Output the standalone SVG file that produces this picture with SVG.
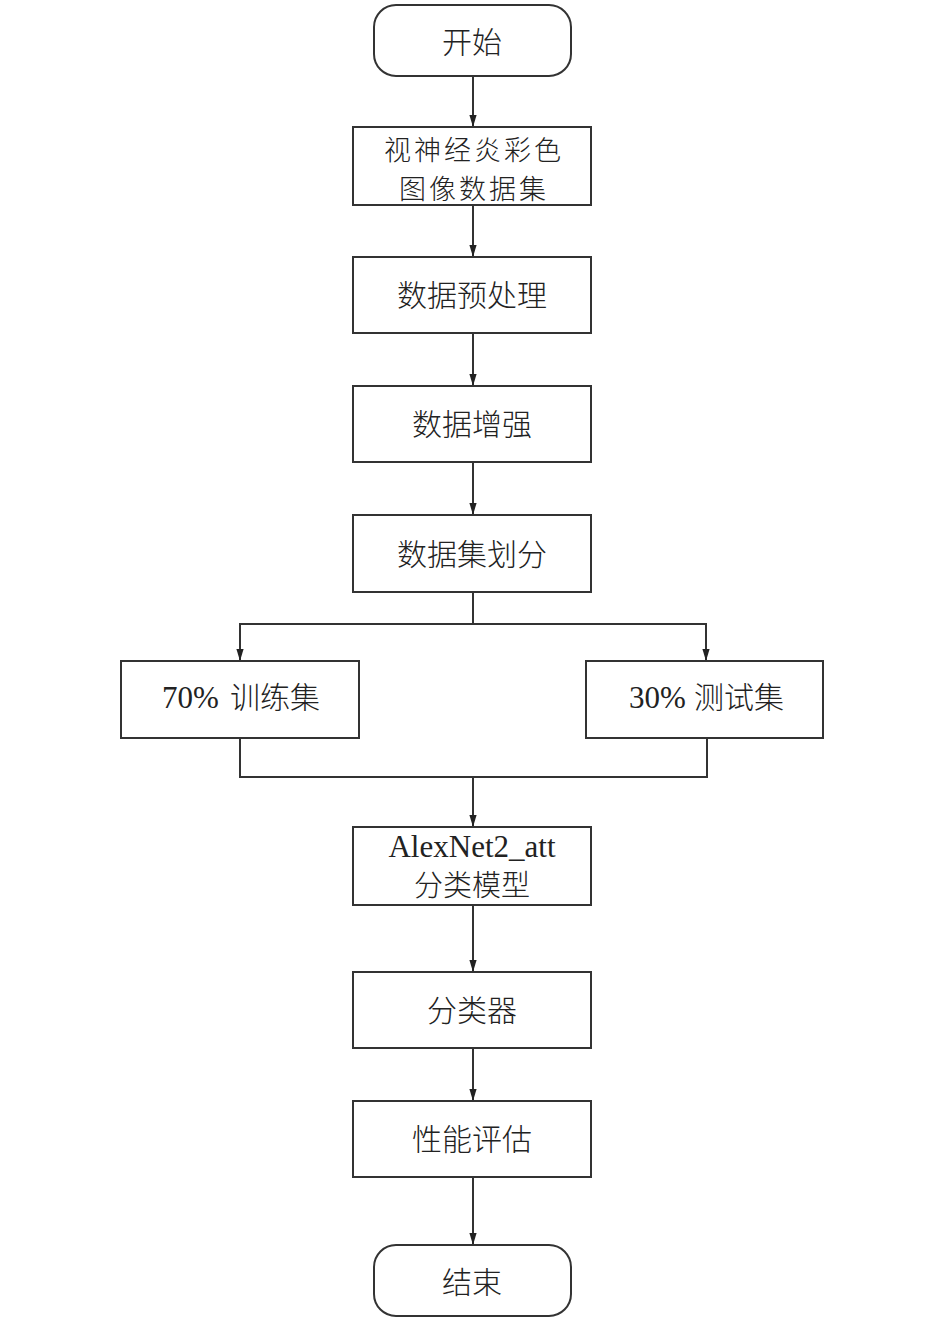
<svg xmlns="http://www.w3.org/2000/svg" width="945" height="1323" viewBox="0 0 945 1323">
<defs>
<marker id="arr" markerWidth="12" markerHeight="20" refX="20" refY="6" orient="auto" markerUnits="userSpaceOnUse" viewBox="0 0 20 12">
<path d="M0,0 L20,6 L0,12 Z" fill="#222"/>
</marker>
<style>
.n{fill:#fff;stroke:#333;stroke-width:2}
.c{fill:none;stroke:#333;stroke-width:2}
.t{font-family:"Noto Sans CJK SC",sans-serif;font-size:30px;fill:#222;text-anchor:middle;font-weight:300}
.m{font-size:29px}
.d{font-size:27px;letter-spacing:3px}
.s{text-anchor:start}
.l{font-family:"Liberation Serif",serif;font-size:31px;fill:#222;font-weight:400}
</style>
</defs>
<rect width="945" height="1323" fill="#fff"/>
<g id="connectors">
<path class="c" d="M473,76 V127" marker-end="url(#arr)"/>
<path class="c" d="M473,205 V257" marker-end="url(#arr)"/>
<path class="c" d="M473,333 V386" marker-end="url(#arr)"/>
<path class="c" d="M473,462 V515" marker-end="url(#arr)"/>
<path class="c" d="M473,592 V624 M239,624 H707"/>
<path class="c" d="M240,623 V661" marker-end="url(#arr)"/>
<path class="c" d="M706,623 V661" marker-end="url(#arr)"/>
<path class="c" d="M240,738 V777 H707 V738"/>
<path class="c" d="M473,777 V827" marker-end="url(#arr)"/>
<path class="c" d="M473,905 V972" marker-end="url(#arr)"/>
<path class="c" d="M473,1048 V1101" marker-end="url(#arr)"/>
<path class="c" d="M473,1177 V1245" marker-end="url(#arr)"/>
</g>
<g id="start"><rect class="n" x="374" y="5" width="197" height="71" rx="22"/><text class="t" x="472" y="53">开始</text></g>
<g id="dataset"><rect class="n" x="353" y="127" width="238" height="78"/><text class="t d" x="474" y="160">视神经炎彩色</text><text class="t d" x="474" y="199">图像数据集</text></g>
<g id="preprocess"><rect class="n" x="353" y="257" width="238" height="76"/><text class="t" x="472" y="306">数据预处理</text></g>
<g id="augment"><rect class="n" x="353" y="386" width="238" height="76"/><text class="t" x="472" y="435">数据增强</text></g>
<g id="split"><rect class="n" x="353" y="515" width="238" height="77"/><text class="t" x="472" y="565">数据集划分</text></g>
<g id="train"><rect class="n" x="121" y="661" width="238" height="77"/><text class="l" x="162" y="708">70%</text><text class="t s" x="230" y="708">训练集</text></g>
<g id="test"><rect class="n" x="586" y="661" width="237" height="77"/><text class="l" x="629" y="708">30%</text><text class="t s" x="694" y="708">测试集</text></g>
<g id="model"><rect class="n" x="353" y="827" width="238" height="78"/><text class="l" x="472" y="857" text-anchor="middle" font-size="30">AlexNet2_att</text><text class="t m" x="472" y="896">分类模型</text></g>
<g id="classifier"><rect class="n" x="353" y="972" width="238" height="76"/><text class="t" x="472" y="1021">分类器</text></g>
<g id="eval"><rect class="n" x="353" y="1101" width="238" height="76"/><text class="t" x="472" y="1150">性能评估</text></g>
<g id="end"><rect class="n" x="374" y="1245" width="197" height="71" rx="22"/><text class="t" x="472" y="1293">结束</text></g>
</svg>
